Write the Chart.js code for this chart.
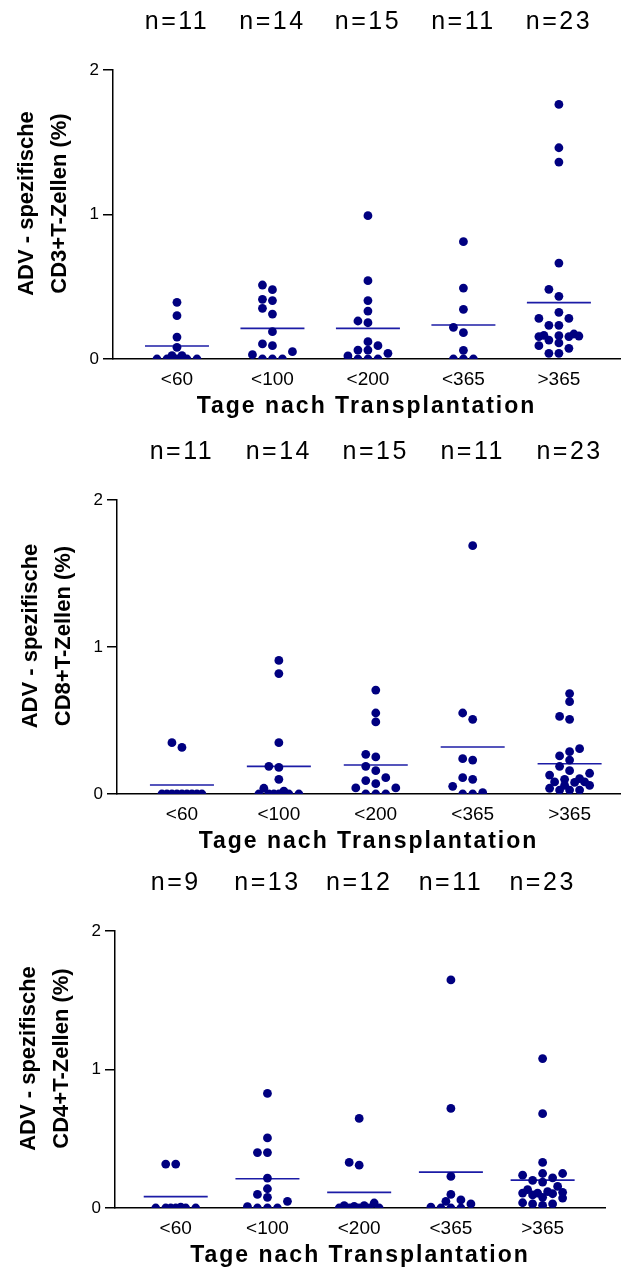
<!DOCTYPE html>
<html>
<head>
<meta charset="utf-8">
<script src="https://cdn.jsdelivr.net/npm/chart.js@4.4.1/dist/chart.umd.min.js"></script>
<style>
  html, body { margin: 0; padding: 0; background: #fff; }
  .panel { position: absolute; left: 0; width: 624px; }
</style>
</head>
<body>
<div class="panel" style="top:0px"><canvas id="cd3" width="624" height="430"></canvas></div>
<div class="panel" style="top:430px"><canvas id="cd8" width="624" height="430"></canvas></div>
<div class="panel" style="top:860px"><canvas id="cd4" width="624" height="408"></canvas></div>
<script>
// categories (Tage nach Transplantation)
var categories = ['<60', '<100', '<200', '<365', '>365'];
var yTicks = [0, 1, 2];

// CD3+ panel
var cd3Values = [
    [0.392, 0.300, 0.152, 0.081, 0.023, 0.023, 0, 0, 0, 0, 0],
    [0.512, 0.480, 0.413, 0.404, 0.351, 0.311, 0.189, 0.104, 0.092, 0.051, 0.030, 0, 0, 0],
    [0.992, 0.542, 0.404, 0.332, 0.263, 0.251, 0.120, 0.092, 0.062, 0.062, 0.039, 0.021, 0, 0, 0],
    [0.812, 0.491, 0.344, 0.219, 0.182, 0.060, 0, 0, 0],
    [1.762, 1.462, 1.363, 0.664, 0.482, 0.434, 0.323, 0.281, 0.281, 0.233, 0.233, 0.173, 0.164, 0.161, 0.159, 0.155, 0.155, 0.131, 0.111, 0.092, 0.074, 0.039, 0.039]
];
var cd3Means = [0.09, 0.212, 0.212, 0.235, 0.39];
var cd3N = ['n=11', 'n=14', 'n=15', 'n=11', 'n=23'];

// CD8+ panel
var cd8Values = [
    [0.349, 0.317, 0, 0, 0, 0, 0, 0, 0, 0, 0],
    [0.909, 0.819, 0.349, 0.188, 0.181, 0.100, 0.039, 0.020, 0, 0, 0, 0, 0, 0],
    [0.707, 0.551, 0.490, 0.270, 0.252, 0.188, 0.159, 0.111, 0.091, 0.070, 0.041, 0.041, 0, 0, 0],
    [1.689, 0.551, 0.508, 0.240, 0.231, 0.111, 0.100, 0.052, 0.009, 0, 0],
    [0.683, 0.628, 0.528, 0.508, 0.308, 0.288, 0.259, 0.231, 0.188, 0.159, 0.141, 0.129, 0.104, 0.100, 0.082, 0.082, 0.079, 0.059, 0.059, 0.039, 0.027, 0.027, 0.027]
];
var cd8Means = [0.061, 0.188, 0.197, 0.320, 0.206];
var cd8N = ['n=11', 'n=14', 'n=15', 'n=11', 'n=23'];

// CD4+ panel
var cd4Values = [
    [0.317, 0.317, 0.007, 0, 0, 0, 0, 0, 0],
    [0.827, 0.506, 0.400, 0.400, 0.216, 0.139, 0.098, 0.077, 0.048, 0.010, 0, 0, 0],
    [0.647, 0.329, 0.309, 0.036, 0.017, 0.017, 0.012, 0, 0, 0, 0, 0],
    [1.647, 0.719, 0.228, 0.098, 0.058, 0.048, 0.029, 0.007, 0, 0, 0],
    [1.079, 0.681, 0.329, 0.249, 0.249, 0.237, 0.218, 0.199, 0.187, 0.156, 0.132, 0.118, 0.113, 0.108, 0.108, 0.103, 0.094, 0.077, 0.072, 0.038, 0.029, 0.029, 0.019]
];
var cd4Means = [0.082, 0.211, 0.113, 0.259, 0.201];
var cd4N = ['n=9', 'n=13', 'n=12', 'n=11', 'n=23'];

var FONT = "'Liberation Sans', Arial, sans-serif";
var DOT = '#000080';
var MEAN = '#1c1ca6';

// simple scatter-dot layout (column scatter like Prism): spread points that would overlap
function swarm(values, center, stepUnits, pxPerY) {
    var stepPx = 10, minDist = 8;
    var ints = [0, -1, 1, -2, 2];
    var all = [0, -0.5, 0.5, -1, 1, -1.5, 1.5, -2, 2];
    var order = values.map(function (v, i) { return i; }).sort(function (a, b) { return values[a] - values[b]; });
    var placed = [];
    function clearance(off, v) {
        var d = Infinity;
        placed.forEach(function (p) {
            d = Math.min(d, Math.hypot((off - p.off) * stepPx, (v - p.v) * pxPerY));
        });
        return d;
    }
    order.forEach(function (i) {
        var v = values[i];
        var off = ints.find(function (o) { return clearance(o, v) >= minDist; });
        if (off === undefined) {
            var best = -1;
            all.forEach(function (o) {
                var c = clearance(o, v);
                if (c > best + 0.01) { best = c; off = o; }
            });
        }
        placed.push({ off: off, v: v });
    });
    return placed.map(function (p) { return { x: center + p.off * stepUnits, y: p.v }; });
}

// titles drawn around the plot area
var labelsPlugin = {
    id: 'panelLabels',
    afterDraw: function (chart) {
        var o = chart.options.plugins.panelLabels;
        var ctx = chart.ctx, area = chart.chartArea, xs = chart.scales.x;
        ctx.save();
        ctx.fillStyle = '#000';
        ctx.textAlign = 'center';
        ctx.textBaseline = 'middle';

        // n= counts
        ctx.font = '25px ' + FONT;
        ctx.letterSpacing = '2.5px';
        o.nLabels.forEach(function (t, i) {
            ctx.fillText(t, xs.getPixelForValue(i + 1), area.top - 48);
        });

        // x title
        ctx.font = 'bold 23px ' + FONT;
        ctx.letterSpacing = '2px';
        ctx.fillText('Tage nach Transplantation', (area.left + area.right) / 2, area.bottom + 48);

        // y title (two lines)
        ctx.letterSpacing = '0px';
        ctx.font = 'bold 22px ' + FONT;
        var midY = (area.top + area.bottom) / 2 - 11;
        o.yTitle.forEach(function (line, i) {
            ctx.save();
            ctx.translate(area.left - 86 + i * 33, midY);
            ctx.rotate(-Math.PI / 2);
            ctx.fillText(line, 0, 0);
            ctx.restore();
        });
        ctx.restore();
    }
};

function makePanel(id, values, means, nLabels, yTitle, g) {
    var ctx = document.getElementById(id).getContext('2d');
    var canvasH = ctx.canvas.height;
    var pxPerX = (624 - g.padRight - g.yWidth) / (g.xMax - g.xMin);
    var pxPerY = (canvasH - g.xHeight - g.padTop) / 2;
    var stepUnits = 10 / pxPerX;

    var points = [];
    values.forEach(function (vals, i) {
        points = points.concat(swarm(vals, i + 1, stepUnits, pxPerY));
    });
    var meanPoints = means.map(function (m, i) { return { x: i + 1, y: m }; });

    return new Chart(ctx, {
        type: 'scatter',
        data: {
            datasets: [
                {
                    label: 'Werte',
                    data: points,
                    pointRadius: 4.4,
                    pointBackgroundColor: DOT,
                    pointBorderWidth: 0
                },
                {
                    label: 'Mittelwert',
                    data: meanPoints,
                    pointStyle: 'line',
                    pointRadius: 32,
                    pointBorderColor: MEAN,
                    pointBorderWidth: 1.6
                }
            ]
        },
        options: {
            responsive: false,
            animation: false,
            events: [],
            layout: { autoPadding: false, padding: { top: g.padTop, right: g.padRight, left: 0, bottom: 0 } },
            plugins: {
                legend: { display: false },
                tooltip: { enabled: false },
                panelLabels: { nLabels: nLabels, yTitle: yTitle }
            },
            scales: {
                x: {
                    type: 'linear',
                    min: g.xMin,
                    max: g.xMax,
                    afterBuildTicks: function (scale) {
                        scale.ticks = categories.map(function (c, i) { return { value: i + 1 }; });
                    },
                    afterFit: function (scale) { scale.height = g.xHeight; },
                    ticks: {
                        autoSkip: false,
                        maxRotation: 0,
                        padding: 9,
                        color: '#000',
                        font: { family: FONT, size: 19 },
                        callback: function (v) { return categories[v - 1]; }
                    },
                    grid: { display: false, drawTicks: false },
                    border: { display: true, color: '#000', width: 1.5 }
                },
                y: {
                    min: 0,
                    max: 2,
                    afterBuildTicks: function (scale) {
                        scale.ticks = yTicks.map(function (v) { return { value: v }; });
                    },
                    afterFit: function (scale) { scale.width = g.yWidth; },
                    ticks: {
                        padding: 4,
                        color: '#000',
                        font: { family: FONT, size: 17 }
                    },
                    grid: { drawOnChartArea: false, drawTicks: true, tickLength: 10, color: '#000', lineWidth: 1.5 },
                    border: { display: true, color: '#000', width: 1.5 }
                }
            }
        },
        plugins: [labelsPlugin]
    });
}

document.addEventListener('DOMContentLoaded', function () {
    makePanel('cd3', cd3Values, cd3Means, cd3N, ['ADV - spezifische', 'CD3+T-Zellen (%)'],
        { padTop: 70, xHeight: 71, yWidth: 113, padRight: 4, xMin: 0.33, xMax: 5.64 });
    makePanel('cd8', cd8Values, cd8Means, cd8N, ['ADV - spezifische', 'CD8+T-Zellen (%)'],
        { padTop: 70, xHeight: 66, yWidth: 117, padRight: 4, xMin: 0.33, xMax: 5.52 });
    makePanel('cd4', cd4Values, cd4Means, cd4N, ['ADV - spezifische', 'CD4+T-Zellen (%)'],
        { padTop: 71, xHeight: 60, yWidth: 115, padRight: 19, xMin: 0.338, xMax: 5.68 });
});
</script>
</body>
</html>
